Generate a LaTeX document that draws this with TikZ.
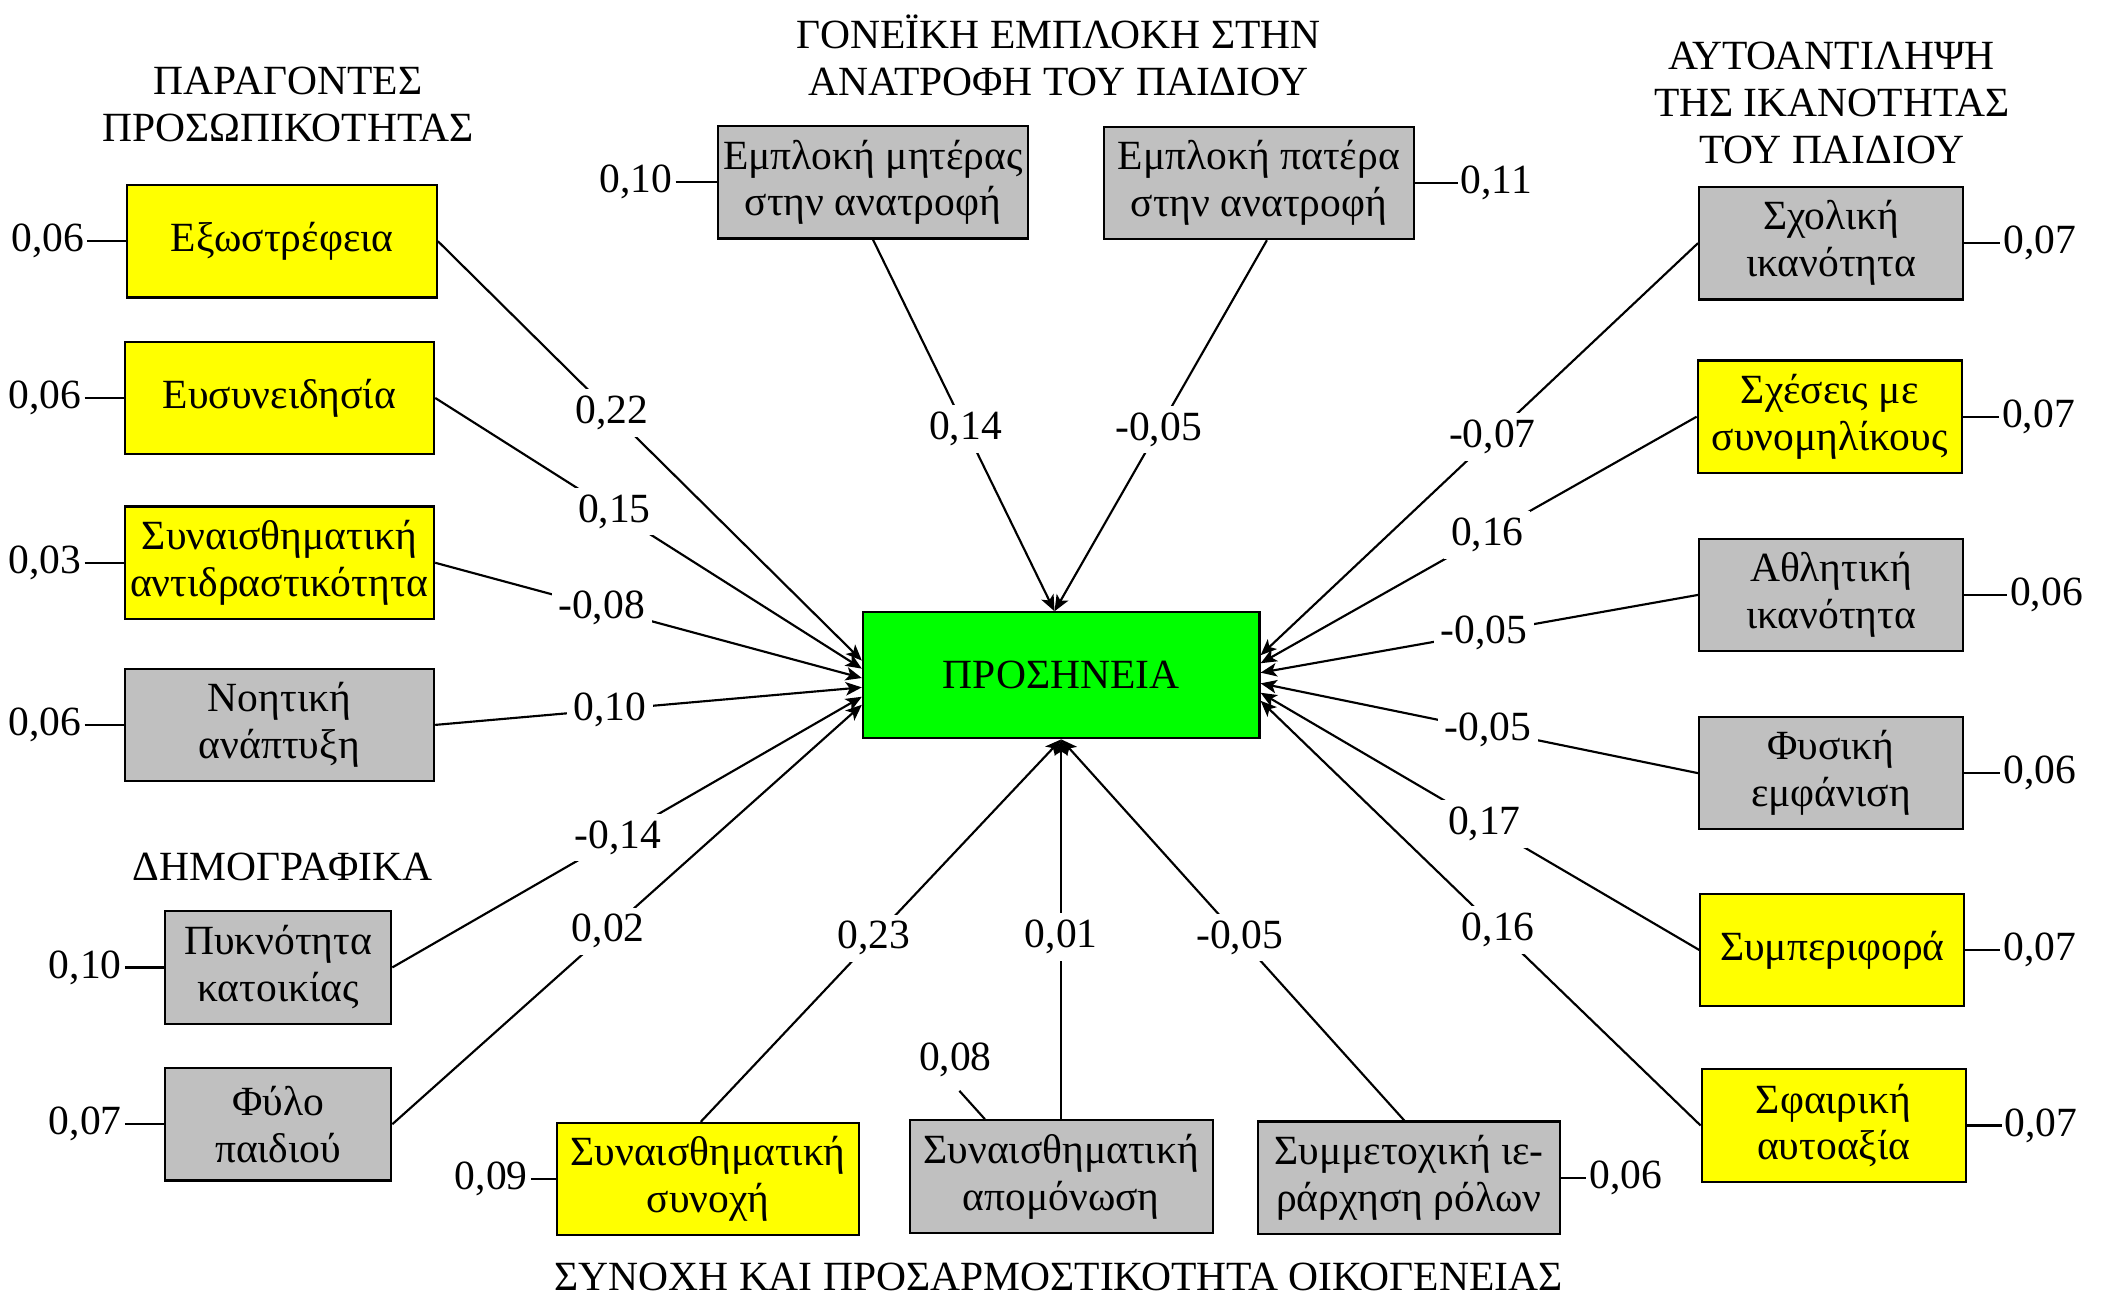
\documentclass[tikz,border=0pt]{standalone}
\usepackage{fontspec}
\setmainfont{Liberation Serif}
\usetikzlibrary{arrows.meta}
\definecolor{boxyellow}{RGB}{255,255,0}
\definecolor{boxgray}{RGB}{192,192,192}
\definecolor{boxgreen}{RGB}{0,255,0}
\tikzset{
 txt/.style={font=\fontsize{15.5pt}{17.5pt}\selectfont},
 vbox/.style={txt, draw=black, line width=0.8pt, align=center, minimum height=42pt, inner sep=1pt},
 ybox/.style={vbox, fill=boxyellow},
 gbox/.style={vbox, fill=boxgray},
 coef/.style={txt, fill=white, inner sep=2.5pt},
 resid/.style={txt, inner sep=1pt},
 arr/.style={line width=0.8pt, -{Stealth[length=6pt,width=5pt,inset=1.5pt]}},
 ln/.style={line width=0.8pt},
 title/.style={txt, align=center},
}
\begin{document}
\begin{tikzpicture}[x=0.5pt,y=-0.5pt]
\useasboundingbox (0,0) rectangle (1568,968);
% titles
\node[title] (t1) at (215,78) {ΠΑΡΑΓΟΝΤΕΣ\\ΠΡΟΣΩΠΙΚΟΤΗΤΑΣ};
\node[title] (t2) at (790,41) {ΓΟΝΕΪΚΗ ΕΜΠΛΟΚΗ ΣΤΗΝ\\ΑΝΑΤΡΟΦΗ ΤΟΥ ΠΑΙΔΙΟΥ};
\node[title] (t3) at (1367,77) {ΑΥΤΟΑΝΤΙΛΗΨΗ\\ΤΗΣ ΙΚΑΝΟΤΗΤΑΣ\\ΤΟΥ ΠΑΙΔΙΟΥ};
\node[title] (t4) at (211,647) {ΔΗΜΟΓΡΑΦΙΚΑ};
\node[title] (t5) at (790,953) {ΣΥΝΟΧΗ ΚΑΙ ΠΡΟΣΑΡΜΟΣΤΙΚΟΤΗΤΑ ΟΙΚΟΓΕΝΕΙΑΣ};
% center
\node[vbox, fill=boxgreen, minimum width=148pt, minimum height=47pt] (P) at (792,504) {ΠΡΟΣΗΝΕΙΑ};
% left boxes
\node[ybox, minimum width=115.5pt] (ex) at (210.5,180) {Εξωστρέφεια};
\node[ybox, minimum width=115.5pt] (eu) at (208.5,297) {Ευσυνειδησία};
\node[ybox, minimum width=115.5pt] (sa) at (208.5,420) {Συναισθηματική\\αντιδραστικότητα};
\node[gbox, minimum width=115.5pt] (no) at (208.5,541) {Νοητική\\ανάπτυξη};
\node[gbox, minimum width=84.5pt] (py) at (207.5,722) {Πυκνότητα\\κατοικίας};
\node[gbox, minimum width=84.5pt] (fy) at (207.5,839) {Φύλο\\παιδιού};
% top boxes
\node[gbox, minimum width=115.5pt] (em) at (651.5,136) {Εμπλοκή μητέρας\\στην ανατροφή};
\node[gbox, minimum width=115.5pt] (ep) at (939.5,136.5) {Εμπλοκή πατέρα\\στην ανατροφή};
% right boxes
\node[gbox, minimum width=98.5pt] (sx) at (1366.5,181.5) {Σχολική\\ικανότητα};
\node[ybox, minimum width=98.5pt] (sc) at (1365.5,311) {Σχέσεις με\\συνομηλίκους};
\node[gbox, minimum width=98.5pt] (at) at (1366.5,444) {Αθλητική\\ικανότητα};
\node[gbox, minimum width=98.5pt] (fe) at (1366.5,577) {Φυσική\\εμφάνιση};
\node[ybox, minimum width=98.5pt] (sm) at (1367.5,709) {Συμπεριφορά};
\node[ybox, minimum width=98.5pt] (sf) at (1368.5,840) {Σφαιρική\\αυτοαξία};
% bottom boxes
\node[ybox, minimum width=112.5pt] (ss) at (528.5,880) {Συναισθηματική\\συνοχή};
\node[gbox, minimum width=113pt] (ap) at (792,878) {Συναισθηματική\\απομόνωση};
\node[gbox, minimum width=112.5pt] (ie) at (1051.5,879) {Συμμετοχική ιε-\\ράρχηση ρόλων};
% residual labels
\node[resid, anchor=east] (rex) at ([xshift=-14.5pt]ex.west) {0,06};
\draw[ln] (rex.east) -- (ex.west);
\node[resid, anchor=east] (reu) at ([xshift=-14.5pt]eu.west) {0,06};
\draw[ln] (reu.east) -- (eu.west);
\node[resid, anchor=east] (rsa) at ([xshift=-14.5pt]sa.west) {0,03};
\draw[ln] (rsa.east) -- (sa.west);
\node[resid, anchor=east] (rno) at ([xshift=-14.5pt]no.west) {0,06};
\draw[ln] (rno.east) -- (no.west);
\node[resid, anchor=east] (rpy) at ([xshift=-14.5pt]py.west) {0,10};
\draw[ln] (rpy.east) -- (py.west);
\node[resid, anchor=east] (rfy) at ([xshift=-14.5pt]fy.west) {0,07};
\draw[ln] (rfy.east) -- (fy.west);
\node[resid, anchor=east] (rem) at ([xshift=-15.5pt]em.west) {0,10};
\draw[ln] (rem.east) -- (em.west);
\node[resid, anchor=west] (rep) at ([xshift=16pt]ep.east) {0,11};
\draw[ln] (ep.east) -- (rep.west);
\node[resid, anchor=west] (rsx) at ([xshift=13.5pt]sx.east) {0,07};
\draw[ln] (sx.east) -- (rsx.west);
\node[resid, anchor=west] (rsc) at ([xshift=13.5pt]sc.east) {0,07};
\draw[ln] (sc.east) -- (rsc.west);
\node[resid, anchor=west] (rat) at ([xshift=16pt]at.east) {0,06};
\draw[ln] (at.east) -- (rat.west);
\node[resid, anchor=west] (rfe) at ([xshift=13.5pt]fe.east) {0,06};
\draw[ln] (fe.east) -- (rfe.west);
\node[resid, anchor=west] (rsm) at ([xshift=13pt]sm.east) {0,07};
\draw[ln] (sm.east) -- (rsm.west);
\node[resid, anchor=west] (rsf) at ([xshift=13pt]sf.east) {0,07};
\draw[ln] (sf.east) -- (rsf.west);
\node[resid, anchor=east] (rss) at ([xshift=-9.5pt]ss.west) {0,09};
\draw[ln] (rss.east) -- (ss.west);
\node[resid, anchor=west] (rie) at ([xshift=9.5pt]ie.east) {0,06};
\draw[ln] (ie.east) -- (rie.west);
\node[resid] (rap) at (713,791) {0,08};
\draw[ln] ([xshift=1.5pt,yshift=-4pt]rap.south) -- ([xshift=-28.5pt]ap.north);
% paths into center
\draw[arr] (ex.east) -- node[coef,pos=0.41]{0,22} ([yshift=5.5pt]P.west);
\draw[arr] (eu.east) -- node[coef,pos=0.42]{0,15} ([yshift=2.5pt]P.west);
\draw[arr] (sa.east) -- node[coef,pos=0.39]{-0,08} ([yshift=-1pt]P.west);
\draw[arr] (no.east) -- node[coef,pos=0.41]{0,10} ([yshift=-4.5pt]P.west);
\draw[arr] (py.east) -- node[coef,pos=0.48]{-0,14} ([yshift=-8pt]P.west);
\draw[arr] (fy.east) -- node[coef,pos=0.46]{0,02} ([yshift=-11pt]P.west);
\draw[arr] (em.south) -- node[coef,pos=0.51]{0,14} ([xshift=-2.5pt]P.north);
\draw[arr] ([xshift=3pt]ep.south) -- node[coef,pos=0.51]{-0,05} ([xshift=-2.5pt]P.north);
\draw[arr] (sx.west) -- node[coef,pos=0.47]{-0,07} ([yshift=7.5pt]P.east);
\draw[arr] (sc.west) -- node[coef,pos=0.48]{0,16} ([yshift=4.5pt]P.east);
\draw[arr] (at.west) -- node[coef,pos=0.49]{-0,05} ([yshift=1pt]P.east);
\draw[arr] (fe.west) -- node[coef,pos=0.48]{-0,05} ([yshift=-3pt]P.east);
\draw[arr] (sm.west) -- node[coef,pos=0.49]{0,17} ([yshift=-6.5pt]P.east);
\draw[arr] (sf.west) -- node[coef,pos=0.46]{0,16} ([yshift=-9.5pt]P.east);
\draw[arr] ([xshift=-2.75pt]ss.north) -- node[coef,pos=0.48]{0,23} (P.south);
\draw[arr] (ap.north) -- node[coef,pos=0.48]{0,01} (P.south);
\draw[arr] ([xshift=-1.75pt]ie.north) -- node[coef,pos=0.48]{-0,05} (P.south);
\end{tikzpicture}
\end{document}
